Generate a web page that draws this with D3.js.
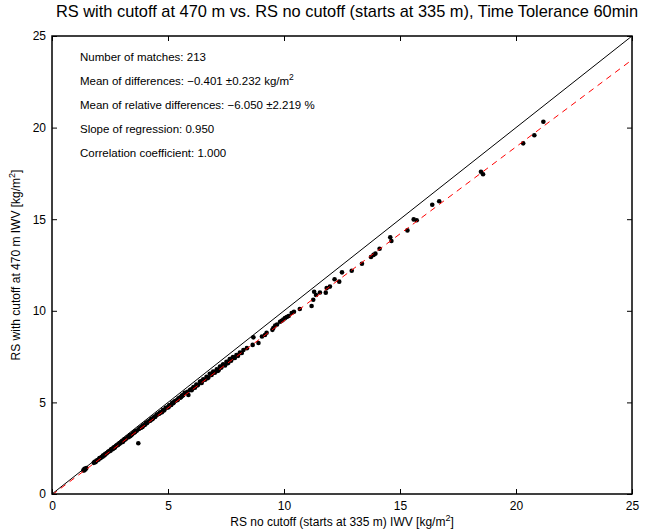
<!DOCTYPE html>
<html><head><meta charset="utf-8">
<script src="https://cdn.jsdelivr.net/npm/d3@7"></script>
<style>body{margin:0;background:#fff}svg{display:block;font-family:"Liberation Sans",Arial,sans-serif}</style>
</head><body>
<script>
const titleText = "RS with cutoff at 470 m vs. RS no cutoff (starts at 335 m), Time Tolerance 60min";
const xTicks = [0,5,10,15,20,25];
const yTicks = [0,5,10,15,20,25];
const statsLines = [
  ["Number of matches: 213", null],
  ["Mean of differences: \u22120.401 \u00b10.232 kg/m", "2"],
  ["Mean of relative differences: \u22126.050 \u00b12.219 %", null],
  ["Slope of regression: 0.950", null],
  ["Correlation coefficient: 1.000", null]
];
const regSlope = 0.950, regIntercept = -0.05;
const xVals = [
1.35,1.40,1.44,1.48,1.80,1.84,1.88,1.92,2.00,2.05,2.12,2.20,2.25,2.30,2.36,2.42,2.48,2.55,2.60,2.66,
2.72,2.78,2.85,2.90,2.96,3.02,3.08,3.12,3.18,3.25,3.30,3.36,3.42,3.48,3.55,3.60,3.66,3.72,3.75,3.80,
3.86,3.92,3.98,4.05,4.10,4.15,4.22,4.28,4.35,4.40,4.46,4.52,4.58,4.65,4.70,4.78,4.85,4.90,4.98,5.05,
5.10,5.18,5.25,5.30,5.38,5.45,5.52,5.60,5.66,5.72,5.80,5.88,5.95,6.02,6.10,6.16,6.22,6.30,6.38,6.45,
6.52,6.60,6.66,6.74,6.80,6.88,6.95,7.02,7.10,7.18,7.24,7.30,7.38,7.46,7.52,7.60,7.66,7.72,7.80,7.88,
7.95,8.02,8.10,8.18,8.25,8.40,8.65,8.68,8.90,9.18,9.05,9.25,9.50,9.54,9.62,9.70,9.83,9.90,9.97,10.04,
10.12,10.20,10.33,10.43,10.68,11.19,11.26,11.30,11.38,11.55,11.80,11.84,11.98,12.18,12.38,12.50,12.92,13.36,13.75,13.86,
13.94,14.12,14.58,14.63,15.32,15.59,15.72,16.39,16.69,18.49,18.58,20.31,20.79,21.18,
1.38,2.08,2.28,2.52,2.70,2.92,3.15,3.38,3.58,3.84,4.02,4.25,4.44,4.62,4.82,5.02,5.22,5.42,5.62,5.84,
6.06,6.26,6.48,6.70,6.92,7.14,7.36,7.56,7.76,2.18,2.62,3.05,3.46,3.90,4.32,4.74,5.14,5.56,5.98,6.42
];
const yVals = [
1.30,1.37,1.34,1.42,1.70,1.76,1.74,1.82,1.87,1.96,1.99,2.10,2.10,2.20,2.22,2.30,2.34,2.44,2.44,2.54,
2.56,2.64,2.68,2.76,2.80,2.88,2.90,2.98,3.00,3.10,3.10,3.22,3.22,3.32,3.36,3.44,3.46,2.77,3.55,3.62,
3.66,3.74,3.76,3.88,3.88,3.96,4.00,4.10,4.12,4.20,4.24,4.32,4.36,4.44,4.46,4.58,4.60,4.70,4.72,4.84,
4.86,4.98,5.00,5.08,5.12,5.22,5.26,5.38,5.40,5.52,5.52,5.40,5.68,5.66,5.84,5.80,5.98,5.96,6.14,6.06,
6.26,6.24,6.40,6.36,6.56,6.50,6.68,6.62,6.80,6.76,6.96,6.90,7.08,7.02,7.22,7.16,7.36,7.28,7.48,7.42,
7.58,7.54,7.72,7.70,7.86,7.96,8.14,8.55,8.24,8.68,8.60,8.80,8.96,9.06,9.20,9.25,9.40,9.46,9.52,9.60,
9.66,9.72,9.88,9.95,10.10,10.26,10.60,11.04,10.86,11.00,10.99,11.24,11.32,11.72,11.59,12.10,12.19,12.57,12.94,13.05,
13.12,13.39,14.01,13.81,14.39,14.99,14.94,15.79,15.98,17.59,17.45,19.14,19.58,20.32,
1.28,1.95,2.14,2.36,2.52,2.75,2.98,3.16,3.38,3.62,3.80,4.02,4.20,4.38,4.56,4.74,4.96,5.14,5.36,5.58,
5.76,5.92,6.18,6.32,6.62,6.72,7.04,7.14,7.40,2.04,2.46,2.84,3.26,3.66,4.08,4.46,4.86,5.28,5.70,6.12
];

const W = 646, H = 532;
const m = {left: 52, right: 14, top: 36, bottom: 38};
const svg = d3.select("body").append("svg").attr("width", W).attr("height", H);
const x = d3.scaleLinear().domain([0,25]).range([m.left, W - m.right]);
const y = d3.scaleLinear().domain([0,25]).range([H - m.bottom, m.top]);

svg.append("defs").append("clipPath").attr("id","clip").append("rect")
  .attr("x", m.left).attr("y", m.top).attr("width", x(25)-x(0)).attr("height", y(0)-y(25));

const tickLen = 5;
const axB = d3.axisBottom(x).tickValues(xTicks).tickSize(-tickLen).tickPadding(7);
const axT = d3.axisTop(x).tickValues(xTicks).tickSize(-tickLen).tickFormat("");
const axL = d3.axisLeft(y).tickValues(yTicks).tickSize(-tickLen).tickPadding(6);
const axR = d3.axisRight(y).tickValues(yTicks).tickSize(-tickLen).tickFormat("");
function style(g){ g.select(".domain").remove(); g.selectAll("line").attr("stroke","#000"); g.selectAll("text").attr("font-size",12).attr("fill","#000").attr("font-family","'Liberation Sans',Arial,sans-serif"); }
svg.append("g").attr("transform",`translate(0,${y(0)})`).call(axB).call(style);
svg.append("g").attr("transform",`translate(0,${y(25)})`).call(axT).call(style);
svg.append("g").attr("transform",`translate(${x(0)},0)`).call(axL).call(style);
svg.append("g").attr("transform",`translate(${x(25)},0)`).call(axR).call(style);

const plot = svg.append("g").attr("clip-path","url(#clip)");
plot.append("line").attr("x1",x(0)).attr("y1",y(0)).attr("x2",x(25)).attr("y2",y(25))
  .attr("stroke","#000").attr("stroke-width",1);
plot.selectAll("circle").data(d3.range(xVals.length)).join("circle")
  .attr("cx", i => x(xVals[i])).attr("cy", i => y(yVals[i])).attr("r", 2.3).attr("fill","#000");
plot.append("line").attr("x1",x(0)).attr("y1",y(regIntercept)).attr("x2",x(25)).attr("y2",y(regIntercept+regSlope*25))
  .attr("stroke","#ff0000").attr("stroke-width",1).attr("stroke-dasharray","6,5");

svg.append("rect").attr("x",x(0)).attr("y",y(25)).attr("width",x(25)-x(0)).attr("height",y(0)-y(25))
  .attr("fill","none").attr("stroke","#000").attr("stroke-width",1.5);

svg.append("text").attr("x", 347).attr("y", 17).attr("text-anchor","middle")
  .attr("font-size",16.4).text(titleText);

statsLines.forEach((s,i) => {
  const t = svg.append("text").attr("x", 80).attr("y", 61 + i*24).attr("font-size",11.5);
  t.append("tspan").text(s[0]);
  if (s[1]) t.append("tspan").attr("dy",-5).attr("font-size",8.5).text(s[1]);
});

const xl = svg.append("text").attr("x",(x(0)+x(25))/2).attr("y", 526).attr("text-anchor","middle").attr("font-size",12);
xl.append("tspan").text("RS no cutoff (starts at 335 m) IWV [kg/m");
xl.append("tspan").attr("dy",-5).attr("font-size",9).text("2");
xl.append("tspan").attr("dy",5).text("]");
const yl = svg.append("text").attr("transform",`translate(20,${(y(0)+y(25))/2}) rotate(-90)`).attr("text-anchor","middle").attr("font-size",12);
yl.append("tspan").text("RS with cutoff at 470 m IWV [kg/m");
yl.append("tspan").attr("dy",-5).attr("font-size",9).text("2");
yl.append("tspan").attr("dy",5).text("]");
</script>
</body></html>
